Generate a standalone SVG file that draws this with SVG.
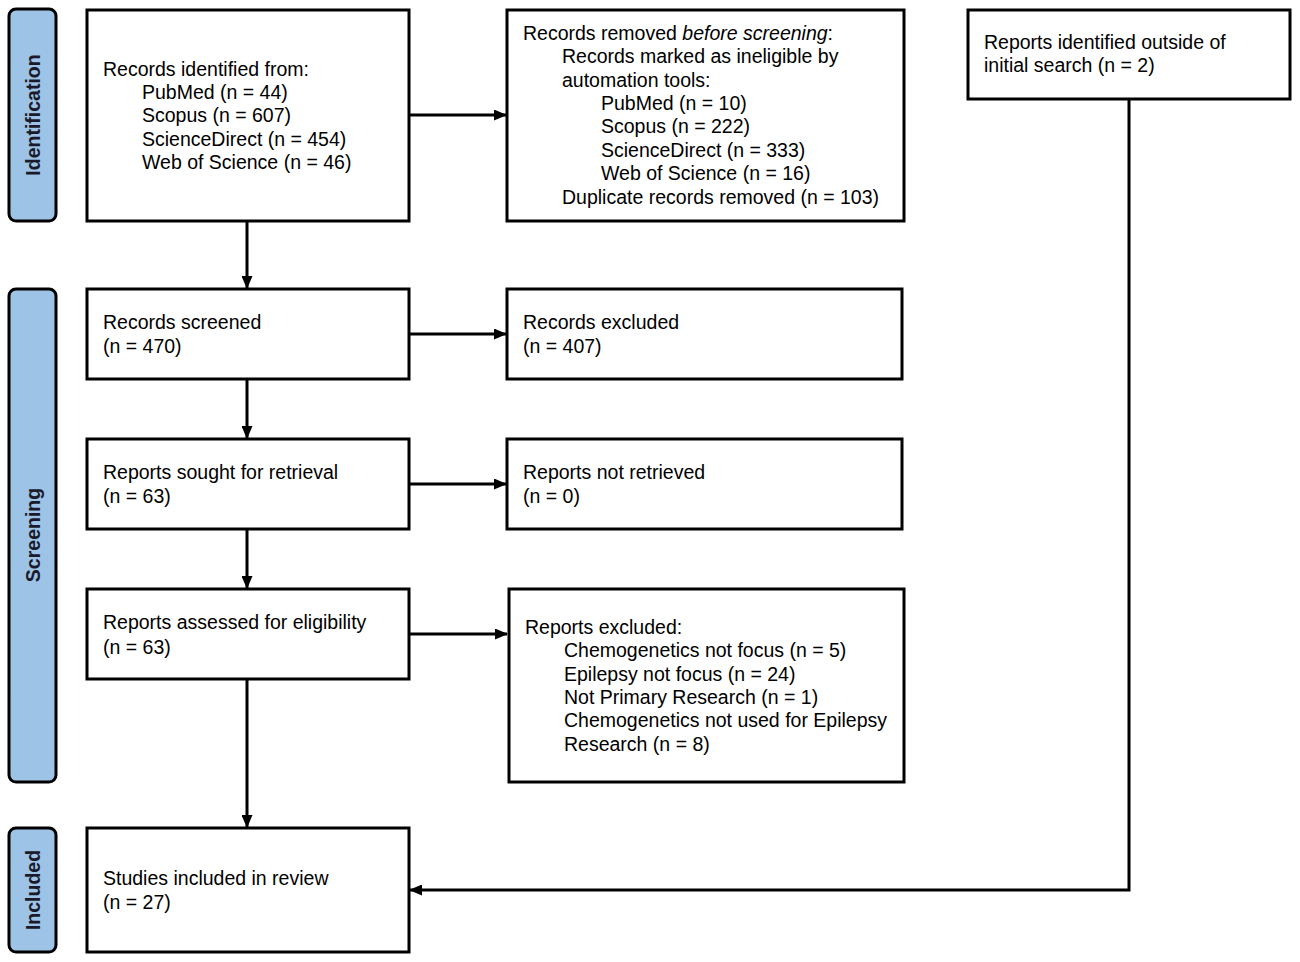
<svg xmlns="http://www.w3.org/2000/svg" width="1300" height="962" viewBox="0 0 1300 962">
<style>
.box{fill:#fff;stroke:#000;stroke-width:3}
.phase{fill:#9dc3e6;stroke:#000;stroke-width:3}
.t{font-family:"Liberation Sans",Arial,sans-serif;font-size:19.5px;fill:#000}
.p{font-family:"Liberation Sans",Arial,sans-serif;font-size:19.5px;font-weight:bold;fill:#1a1a2a}
.c{fill:none;stroke:#000;stroke-width:3}
</style>
<defs>
<marker id="ah" markerWidth="13" markerHeight="11" refX="12" refY="5.5" orient="auto" markerUnits="userSpaceOnUse">
<path d="M0,0 L13,5.5 L0,11 Z" fill="#000"/>
</marker>
</defs>
<rect width="1300" height="962" fill="#fff"/>
<g id="phase-identification"><rect class="phase" x="9" y="9" width="47" height="212" rx="7"/><text class="p" transform="translate(40,115) rotate(-90)" text-anchor="middle">Identification</text></g>
<g id="phase-screening"><rect class="phase" x="9" y="289" width="47" height="493" rx="7"/><text class="p" transform="translate(40,535) rotate(-90)" text-anchor="middle">Screening</text></g>
<g id="phase-included"><rect class="phase" x="9" y="828" width="47" height="124" rx="7"/><text class="p" transform="translate(40,890) rotate(-90)" text-anchor="middle">Included</text></g>
<g id="connectors">
<line class="c" x1="409" y1="115" x2="506" y2="115" marker-end="url(#ah)"/>
<line class="c" x1="247" y1="221" x2="247" y2="288" marker-end="url(#ah)"/>
<line class="c" x1="409" y1="334" x2="506" y2="334" marker-end="url(#ah)"/>
<line class="c" x1="247" y1="379" x2="247" y2="438" marker-end="url(#ah)"/>
<line class="c" x1="409" y1="484" x2="506" y2="484" marker-end="url(#ah)"/>
<line class="c" x1="247" y1="529" x2="247" y2="588" marker-end="url(#ah)"/>
<line class="c" x1="409" y1="634" x2="507" y2="634" marker-end="url(#ah)"/>
<line class="c" x1="247" y1="679" x2="247" y2="827" marker-end="url(#ah)"/>
<polyline class="c" points="1129,99 1129,890 410,890" marker-end="url(#ah)"/>
</g>
<g id="records-identified"><rect class="box" x="87" y="10" width="322" height="211"/>
<text class="t" x="103" y="76">Records identified from:</text>
<text class="t" x="142" y="99">PubMed (n = 44)</text>
<text class="t" x="142" y="122">Scopus (n = 607)</text>
<text class="t" x="142" y="146">ScienceDirect (n = 454)</text>
<text class="t" x="142" y="169">Web of Science (n = 46)</text></g>
<g id="records-removed"><rect class="box" x="507" y="10" width="397" height="211"/>
<text class="t" x="523" y="40">Records removed <tspan font-style="italic">before screening</tspan>:</text>
<text class="t" x="562" y="63">Records marked as ineligible by</text>
<text class="t" x="562" y="87">automation tools:</text>
<text class="t" x="601" y="110">PubMed (n = 10)</text>
<text class="t" x="601" y="133">Scopus (n = 222)</text>
<text class="t" x="601" y="157">ScienceDirect (n = 333)</text>
<text class="t" x="601" y="180">Web of Science (n = 16)</text>
<text class="t" x="562" y="204">Duplicate records removed (n = 103)</text></g>
<g id="reports-outside"><rect class="box" x="968" y="10" width="322" height="89"/>
<text class="t" x="984" y="49">Reports identified outside of</text>
<text class="t" x="984" y="72">initial search (n = 2)</text></g>
<g id="records-screened"><rect class="box" x="87" y="289" width="322" height="90"/>
<text class="t" x="103" y="329">Records screened</text>
<text class="t" x="103" y="353">(n = 470)</text></g>
<g id="records-excluded"><rect class="box" x="507" y="289" width="395" height="90"/>
<text class="t" x="523" y="329">Records excluded</text>
<text class="t" x="523" y="353">(n = 407)</text></g>
<g id="reports-sought"><rect class="box" x="87" y="439" width="322" height="90"/>
<text class="t" x="103" y="479">Reports sought for retrieval</text>
<text class="t" x="103" y="503">(n = 63)</text></g>
<g id="reports-not-retrieved"><rect class="box" x="507" y="439" width="395" height="90"/>
<text class="t" x="523" y="479">Reports not retrieved</text>
<text class="t" x="523" y="503">(n = 0)</text></g>
<g id="reports-assessed"><rect class="box" x="87" y="589" width="322" height="90"/>
<text class="t" x="103" y="629">Reports assessed for eligibility</text>
<text class="t" x="103" y="654">(n = 63)</text></g>
<g id="reports-excluded"><rect class="box" x="509" y="589" width="395" height="193"/>
<text class="t" x="525" y="634">Reports excluded:</text>
<text class="t" x="564" y="657">Chemogenetics not focus (n = 5)</text>
<text class="t" x="564" y="681">Epilepsy not focus (n = 24)</text>
<text class="t" x="564" y="704">Not Primary Research (n = 1)</text>
<text class="t" x="564" y="727">Chemogenetics not used for Epilepsy</text>
<text class="t" x="564" y="751">Research (n = 8)</text></g>
<g id="studies-included"><rect class="box" x="87" y="828" width="322" height="124"/>
<text class="t" x="103" y="885">Studies included in review</text>
<text class="t" x="103" y="909">(n = 27)</text></g>
</svg>
